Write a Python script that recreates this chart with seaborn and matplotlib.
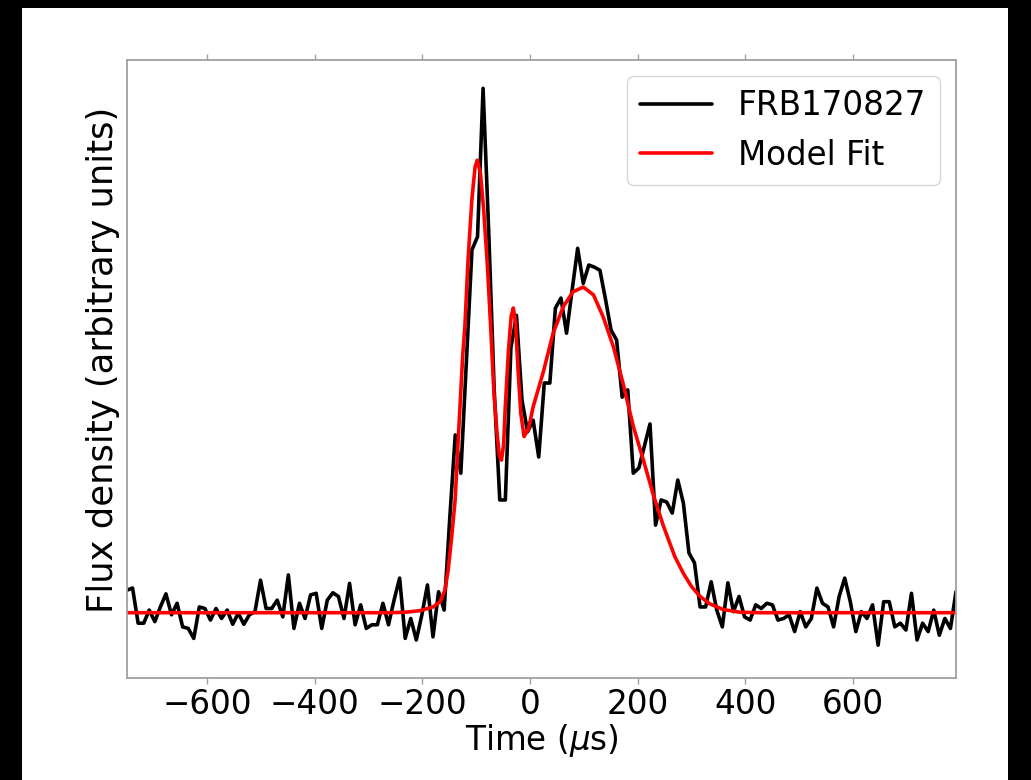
import numpy as np
import pandas as pd
import matplotlib
matplotlib.use("Agg")
import matplotlib.pyplot as plt
import seaborn as sns
from matplotlib.patches import Rectangle

# ---- data ----
# observed profile, 150 samples spanning the plotted time range
t_start, t_end = -748.6, 791.4
flux_left = [0.043, 0.047, -0.020, -0.020, 0.005, -0.017, 0.011, 0.036, -0.004, 0.018,
             -0.027, -0.030, -0.049, 0.011, 0.008, -0.014, 0.008, -0.011, 0.005, -0.022,
             -0.001, -0.022, -0.004, 0.002, 0.062, 0.008, 0.008, 0.024, -0.008, 0.072,
             -0.030, 0.018, -0.011, 0.034, 0.037, -0.030, 0.024, 0.038, 0.031, -0.011,
             0.056, -0.023, 0.015, -0.030, -0.023, -0.023, 0.018, -0.023, 0.024, 0.066,
             -0.049, -0.011, -0.052, -0.004, 0.053, -0.046, 0.040, 0.005]
flux_burst = [0.178, 0.339, 0.266, 0.480, 0.692, 0.717, 1.000, 0.730, 0.425, 0.215,
              0.215, 0.505, 0.567, 0.405, 0.345, 0.367, 0.297, 0.438, 0.438, 0.581,
              0.600, 0.533, 0.615, 0.695, 0.628, 0.663, 0.659, 0.653, 0.598, 0.539,
              0.520, 0.411, 0.425, 0.266, 0.276, 0.318, 0.360, 0.167, 0.215, 0.211,
              0.190, 0.253]
flux_right = [0.209, 0.114, 0.095, 0.011, 0.011, 0.059, 0.005, -0.027, 0.057, 0.002,
              0.031, -0.008, -0.014, 0.015, 0.008, 0.018, 0.015, -0.014, -0.011, -0.004,
              -0.036, 0.002, -0.027, -0.011, 0.047, 0.018, 0.011, -0.027, 0.031, 0.066,
              0.021, -0.036, 0.002, -0.011, 0.015, -0.062, 0.021, 0.021, -0.027, -0.020,
              -0.033, 0.037, -0.052, -0.020, -0.036, 0.005, -0.043, -0.011, -0.030, 0.040]
flux = flux_left + flux_burst + flux_right
time = np.linspace(t_start, t_end, len(flux))

# model fit curve
model_time = [-748.6, -260, -230, -204, -180, -167, -158, -152, -146, -139, -135, -130,
              -125, -121, -115, -108, -102, -98, -92, -86, -79, -73, -67, -61, -57,
              -53, -49, -46, -40, -35, -31, -27, -22, -17, -11, -3, 6, 25, 43, 62,
              80, 99, 118, 136, 155, 173, 192, 211, 229, 248, 269, 285, 300, 316,
              334, 359, 390, 427, 791.4]
model_flux = [0.0, 0.0, 0.001, 0.004, 0.011, 0.021, 0.043, 0.081, 0.139, 0.215, 0.297, 0.393,
              0.490, 0.545, 0.673, 0.787, 0.850, 0.863, 0.838, 0.768, 0.660, 0.545, 0.420,
              0.340, 0.300, 0.291, 0.320, 0.390, 0.500, 0.565, 0.581, 0.555, 0.460, 0.380,
              0.336, 0.350, 0.393, 0.460, 0.533, 0.584, 0.612, 0.621, 0.606, 0.564, 0.507,
              0.437, 0.355, 0.290, 0.225, 0.165, 0.107, 0.075, 0.050, 0.031, 0.017, 0.006,
              0.001, 0.0, 0.0]

x_ticks = [-600, -400, -200, 0, 200, 400, 600]
series_labels = ["FRB170827", "Model Fit"]

df_obs = pd.DataFrame({"time": time, "flux": flux})
df_fit = pd.DataFrame({"time": model_time, "flux": model_flux})

sns.set_theme(style="white")
plt.rcParams["font.family"] = ["DejaVu Sans"]
plt.rcParams["mathtext.fontset"] = "dejavusans"
plt.rcParams["text.color"] = "black"
plt.rcParams["axes.labelcolor"] = "black"

fs = 23.5
fig = plt.figure(figsize=(10.31, 7.80), dpi=100)
fig.patch.set_facecolor("black")
bg = Rectangle((22 / 1031, 0), (1008 - 22) / 1031, (780 - 8) / 780,
               transform=fig.transFigure, facecolor="white",
               edgecolor="none", zorder=-10)
fig.patches.append(bg)
ax = fig.add_axes([127 / 1031, 102 / 780, (956 - 127) / 1031, (678 - 60) / 780])
ax.set_zorder(5)
ax.set_facecolor("white")

sns.lineplot(data=df_obs, x="time", y="flux", ax=ax, color="black", lw=2.6,
             label=series_labels[0], sort=True, estimator=None)
sns.lineplot(data=df_fit, x="time", y="flux", ax=ax, color="#ff0000", lw=2.6,
             label=series_labels[1], sort=True, estimator=None)

ax.set_xlim(t_start, t_end)
ax.set_ylim(-0.1245, 1.054)
ax.set_xticks(x_ticks)
ax.set_xticklabels([f"\u2212{abs(v)}" if v < 0 else str(v) for v in x_ticks], fontsize=fs)
ax.set_yticks([])
ax.tick_params(axis="x", which="both", bottom=True, top=True, direction="out",
               length=4, width=1, color="#a0a0a0", labelcolor="black", pad=3)
for s in ax.spines.values():
    s.set_color("#a0a0a0")
    s.set_linewidth(1.3)

ax.set_xlabel(r"Time ($\mu$s)", fontsize=fs, labelpad=1, color="black")
ax.set_ylabel("Flux density (arbitrary units)", fontsize=25.5, color="black")
ax.yaxis.set_label_coords(-0.008, 0.515)

leg = ax.legend(loc="upper right", fontsize=fs, frameon=True, fancybox=True,
                framealpha=0.8, edgecolor="0.8", handlelength=2.2)
for line in leg.get_lines():
    line.set_linewidth(2.6)
for txt in leg.get_texts():
    txt.set_color("black")

fig.savefig("out.png", dpi=100, facecolor=fig.get_facecolor())
